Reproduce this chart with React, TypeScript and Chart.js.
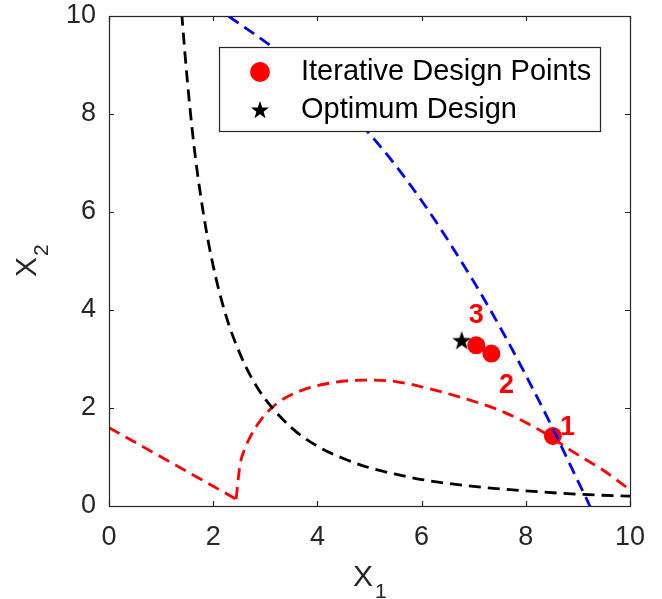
import { useEffect, useRef } from 'react';
import { Chart, registerables } from 'chart.js';

Chart.register(...registerables);

// Constraint boundary curves (x1, x2)
const blueX = [2.0, 2.29, 3.13, 4.0, 4.97, 6.0, 7.0, 7.5, 8.0, 8.5, 9.0, 9.23, 9.4];
const blueY = [10.22, 10.0, 9.37, 8.6, 7.63, 6.23, 4.58, 3.66, 2.67, 1.62, 0.51, 0.0, -0.4];

const blackX = [1.3, 1.4, 1.6, 1.8, 2.0, 2.25, 2.5, 2.75, 3.0, 3.5, 4.0, 4.5, 5.0, 5.5, 6.0, 7.0, 8.0, 9.0, 10.0];
const blackY = [11.6, 10.0, 7.65, 6.05, 4.9, 3.87, 3.14, 2.59, 2.18, 1.6, 1.22, 0.97, 0.78, 0.65, 0.54, 0.4, 0.31, 0.24, 0.2];

const redLineX = [0, 2.44];
const redLineY = [1.6, 0.14];

const redArcX = [2.44, 2.47, 2.52, 2.6, 2.71, 2.93, 3.22, 3.63, 4.2, 4.9, 5.5, 6.16, 6.93, 7.5, 8.33, 8.87, 9.5, 10];
const redArcY = [0.14, 0.45, 0.87, 1.15, 1.41, 1.78, 2.09, 2.33, 2.5, 2.57, 2.54, 2.39, 2.16, 1.95, 1.51, 1.13, 0.72, 0.33];

// Iterative design points and optimum
const iterX = [8.52, 7.34, 7.05];
const iterY = [1.43, 3.11, 3.28];
const iterLabels = ['1', '2', '3'];
const iterLabelX = [8.8, 7.63, 7.05];
const iterLabelY = [1.61, 2.46, 3.89];

const optX = [6.77];
const optY = [3.38];

const tickValues = [0, 2, 4, 6, 8, 10];
const legendLabels = ['Iterative Design Points', 'Optimum Design'];

const FONT = '"Liberation Sans", Arial, Helvetica, sans-serif';
const AXIS_COLOR = '#262626';

const zip = (xs: number[], ys: number[]) => xs.map((x, i) => ({ x, y: ys[i] }));

function drawStarPath(ctx: CanvasRenderingContext2D, cx: number, cy: number, outer: number, inner: number) {
  ctx.beginPath();
  for (let i = 0; i < 10; i++) {
    const r = i % 2 === 0 ? outer : inner;
    const a = -Math.PI / 2 + (i * Math.PI) / 5;
    const px = cx + r * Math.cos(a);
    const py = cy + r * Math.sin(a);
    if (i === 0) ctx.moveTo(px, py);
    else ctx.lineTo(px, py);
  }
  ctx.closePath();
}

function makeStarImage(): HTMLCanvasElement {
  const c = document.createElement('canvas');
  c.width = 22;
  c.height = 22;
  const g = c.getContext('2d')!;
  g.fillStyle = '#000';
  drawStarPath(g, 11, 11.8, 10, 4);
  g.fill();
  return c;
}

const framePlugin = {
  id: 'frameAndLegend',
  afterDatasetsDraw(chart: any) {
    const { ctx, chartArea } = chart;
    const xs = chart.scales.x;
    const ys = chart.scales.y;
    const { left, right, top, bottom } = chartArea;

    ctx.save();
    // Axes box
    ctx.strokeStyle = AXIS_COLOR;
    ctx.lineWidth = 1.2;
    ctx.strokeRect(Math.round(left) + 0.5, Math.round(top) + 0.5, Math.round(right - left), Math.round(bottom - top));

    // Inward tick marks on all four sides
    const tl = 5;
    ctx.beginPath();
    tickValues.forEach((v) => {
      const px = Math.round(xs.getPixelForValue(v)) + 0.5;
      ctx.moveTo(px, bottom);
      ctx.lineTo(px, bottom - tl);
      ctx.moveTo(px, top);
      ctx.lineTo(px, top + tl);
      const py = Math.round(ys.getPixelForValue(v)) + 0.5;
      ctx.moveTo(left, py);
      ctx.lineTo(left + tl, py);
      ctx.moveTo(right, py);
      ctx.lineTo(right - tl, py);
    });
    ctx.stroke();

    // Iteration numbers
    ctx.fillStyle = '#ff0000';
    ctx.font = `bold 27px ${FONT}`;
    ctx.textAlign = 'center';
    ctx.textBaseline = 'middle';
    iterLabels.forEach((t, i) => {
      ctx.fillText(t, xs.getPixelForValue(iterLabelX[i]), ys.getPixelForValue(iterLabelY[i]));
    });

    // Legend
    const lx = 219.5;
    const ly = 47.5;
    const lw = 381;
    const lh = 84;
    ctx.fillStyle = '#ffffff';
    ctx.fillRect(lx, ly, lw, lh);
    ctx.strokeStyle = AXIS_COLOR;
    ctx.lineWidth = 1.2;
    ctx.strokeRect(lx, ly, lw, lh);

    ctx.fillStyle = '#ff0000';
    ctx.beginPath();
    ctx.arc(260, 72, 10, 0, Math.PI * 2);
    ctx.fill();

    ctx.fillStyle = '#000';
    drawStarPath(ctx, 260, 110.5, 9.5, 3.8);
    ctx.fill();

    ctx.fillStyle = '#000';
    ctx.font = `29px ${FONT}`;
    ctx.textAlign = 'left';
    ctx.textBaseline = 'middle';
    ctx.fillText(legendLabels[0], 301, 72);
    ctx.fillText(legendLabels[1], 301, 110);

    // Axis titles with subscripts
    ctx.fillStyle = AXIS_COLOR;
    ctx.textBaseline = 'alphabetic';
    ctx.font = `30px ${FONT}`;
    ctx.fillText('X', 353, 586);
    ctx.font = `21px ${FONT}`;
    ctx.fillText('1', 375, 598);

    ctx.translate(36, 277);
    ctx.rotate(-Math.PI / 2);
    ctx.font = `30px ${FONT}`;
    ctx.fillText('X', 0, 0);
    ctx.font = `21px ${FONT}`;
    ctx.fillText('2', 21, 12);
    ctx.restore();
  },
};

export default function App() {
  const canvasRef = useRef<HTMLCanvasElement | null>(null);

  useEffect(() => {
    const canvas = canvasRef.current;
    if (!canvas) return;
    const star = makeStarImage();
    const dash = [12, 7];
    const lineCommon = {
      pointRadius: 0,
      borderWidth: 2.8,
      borderDash: dash,
      fill: false,
      showLine: true,
      cubicInterpolationMode: 'monotone' as const,
    };

    const chart = new Chart(canvas, {
      type: 'line',
      data: {
        datasets: [
          { ...lineCommon, label: 'g3', data: zip(blueX, blueY), borderColor: '#0000ff' },
          { ...lineCommon, label: 'g1', data: zip(blackX, blackY), borderColor: '#000000' },
          { ...lineCommon, label: 'g2a', data: zip(redLineX, redLineY), borderColor: '#ff0000', cubicInterpolationMode: 'default' as const },
          { ...lineCommon, label: 'g2b', data: zip(redArcX, redArcY), borderColor: '#ff0000' },
          {
            label: legendLabels[1],
            data: zip(optX, optY),
            showLine: false,
            pointStyle: star,
            pointRadius: 10,
          },
          {
            label: legendLabels[0],
            data: zip(iterX, iterY),
            showLine: false,
            pointRadius: 9,
            pointBackgroundColor: '#ff0000',
            pointBorderColor: '#ff0000',
            pointBorderWidth: 0,
          },
        ],
      },
      options: {
        responsive: false,
        maintainAspectRatio: false,
        animation: false,
        events: [],
        layout: { padding: { top: 16, right: 32, left: 0, bottom: 0 } },
        plugins: {
          legend: { display: false },
          tooltip: { enabled: false },
        },
        scales: {
          x: {
            type: 'linear',
            min: 0,
            max: 10,
            grid: { display: false, drawTicks: false },
            border: { display: false },
            ticks: {
              stepSize: 2,
              padding: 15,
              color: AXIS_COLOR,
              font: { family: FONT, size: 27 },
              maxRotation: 0,
            },
            afterFit(scale: any) {
              scale.height = 93;
              scale.paddingLeft = 0;
              scale.paddingRight = 0;
            },
          },
          y: {
            type: 'linear',
            min: 0,
            max: 10,
            grid: { display: false, drawTicks: false },
            border: { display: false },
            ticks: {
              stepSize: 2,
              padding: 13,
              color: AXIS_COLOR,
              font: { family: FONT, size: 27 },
            },
            afterFit(scale: any) {
              scale.width = 109;
              scale.paddingTop = 0;
              scale.paddingBottom = 0;
            },
          },
        },
      },
      plugins: [framePlugin],
    });

    return () => chart.destroy();
  }, []);

  return (
    <div style={{ position: 'fixed', left: 0, top: 0, width: 662, height: 599, background: '#fff' }}>
      <canvas ref={canvasRef} width={662} height={599} />
    </div>
  );
}
